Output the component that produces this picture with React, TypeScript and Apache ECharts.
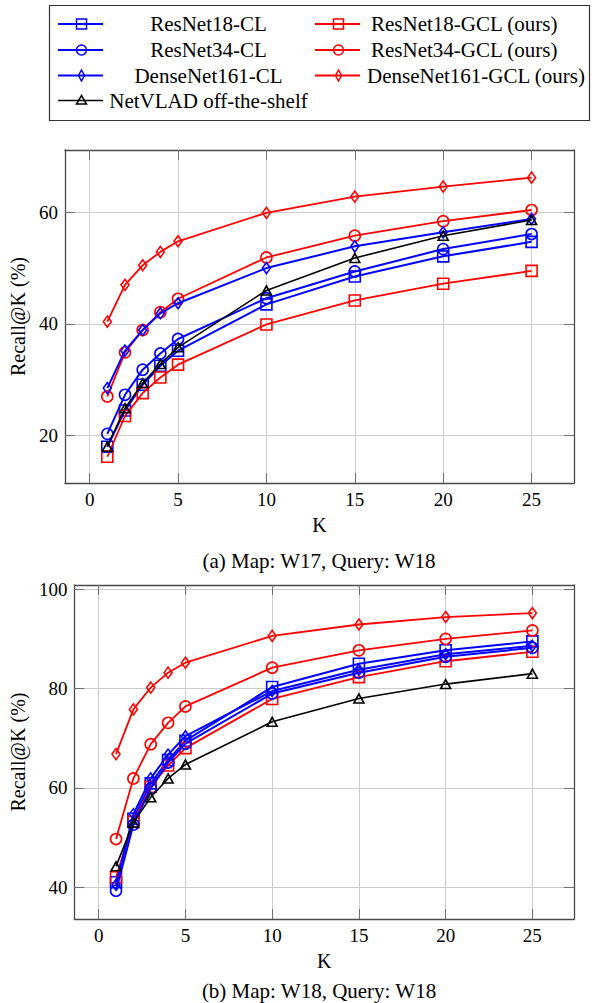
import React, { useEffect, useRef } from "react";
import * as echarts from "echarts";

const kValues = [1, 2, 3, 4, 5, 10, 15, 20, 25];
const xTicks = [0, 5, 10, 15, 20, 25];
const yTicksA = [20, 40, 60];
const yTicksB = [40, 60, 80, 100];

const seriesNames = [
  "ResNet18-CL",
  "ResNet18-GCL (ours)",
  "ResNet34-CL",
  "ResNet34-GCL (ours)",
  "DenseNet161-CL",
  "DenseNet161-GCL (ours)",
  "NetVLAD off-the-shelf",
];

// (a) Map: W17, Query: W18
const r18clA = [18.0, 24.5, 29.1, 32.5, 35.2, 43.5, 48.5, 52.1, 54.7];
const r18gclA = [16.2, 23.5, 27.6, 30.4, 32.7, 39.9, 44.2, 47.2, 49.5];
const r34clA = [20.3, 27.3, 31.8, 34.7, 37.3, 44.6, 49.4, 53.4, 56.1];
const r34gclA = [27.0, 34.9, 38.9, 42.1, 44.5, 51.9, 55.8, 58.4, 60.4];
const d161clA = [28.5, 35.2, 38.9, 41.9, 43.7, 50.0, 53.9, 56.4, 58.8];
const d161gclA = [40.4, 47.0, 50.5, 52.9, 54.8, 59.9, 62.8, 64.6, 66.2];
const netvladA = [18.0, 24.9, 29.4, 32.8, 35.8, 46.0, 51.8, 55.8, 58.6];

// (b) Map: W18, Query: W18
const r18clB = [41.0, 53.8, 60.9, 65.6, 69.5, 80.3, 85.0, 87.7, 89.5];
const r18gclB = [42.0, 53.2, 60.2, 64.5, 68.0, 77.9, 82.3, 85.5, 87.4];
const r34clB = [39.3, 52.6, 59.9, 65.1, 68.9, 79.0, 83.2, 86.4, 88.2];
const r34gclB = [49.7, 61.9, 68.8, 73.1, 76.4, 84.2, 87.7, 90.0, 91.7];
const d161clB = [40.5, 54.7, 61.9, 66.7, 70.4, 79.5, 83.8, 86.9, 88.6];
const d161gclB = [66.8, 75.8, 80.2, 83.2, 85.2, 90.6, 92.9, 94.4, 95.2];
const netvladB = [44.2, 53.0, 58.1, 61.9, 64.7, 73.3, 78.0, 80.9, 83.0];

const dataA = [r18clA, r18gclA, r34clA, r34gclA, d161clA, d161gclA, netvladA];
const dataB = [r18clB, r18gclB, r34clB, r34gclB, d161clB, d161gclB, netvladB];

const captionA = "(a) Map: W17, Query: W18";
const captionB = "(b) Map: W18, Query: W18";

const BLUE = "#0000ff";
const RED = "#ff0000";
const BLACK = "#000000";
const styles = [
  { color: BLUE, mark: "square", lw: 2 },
  { color: RED, mark: "square", lw: 1.8 },
  { color: BLUE, mark: "circle", lw: 2 },
  { color: RED, mark: "circle", lw: 1.8 },
  { color: BLUE, mark: "diamond", lw: 2 },
  { color: RED, mark: "diamond", lw: 1.8 },
  { color: BLACK, mark: "triangle", lw: 1.6 },
];

const FONT = "Liberation Serif";

function symbolOf(mark: string) {
  if (mark === "square") return { symbol: "rect", symbolSize: 11 };
  if (mark === "circle") return { symbol: "circle", symbolSize: 11 };
  if (mark === "diamond") return { symbol: "diamond", symbolSize: [8, 11] };
  return { symbol: "triangle", symbolSize: [10, 9] };
}

function legendMarker(mark: string, cx: number, cy: number, color: string) {
  const style = { fill: "none", stroke: color, lineWidth: 1.5 };
  if (mark === "square")
    return { type: "rect", shape: { x: cx - 5, y: cy - 5, width: 10, height: 10 }, style };
  if (mark === "circle") return { type: "circle", shape: { cx, cy, r: 5 }, style };
  if (mark === "diamond")
    return {
      type: "polygon",
      shape: { points: [[cx, cy - 5.5], [cx + 3, cy], [cx, cy + 5.5], [cx - 3, cy]] },
      style,
    };
  return {
    type: "polygon",
    shape: { points: [[cx, cy - 5], [cx + 5, cy + 3.5], [cx - 5, cy + 3.5]] },
    style,
  };
}

export default function App() {
  const ref = useRef<HTMLDivElement>(null);

  useEffect(() => {
    if (!ref.current) return;
    const chart = echarts.init(ref.current, undefined, { renderer: "svg" });

    const frame = { show: true, onZero: false, lineStyle: { color: "#4a4a4a", width: 1.3 } };
    const tick = (vals: number[]) => ({
      show: true,
      inside: true,
      length: 10,
      lineStyle: { color: "#707070", width: 1 },
      customValues: vals,
    });
    const labelStyle = { color: "#000", fontFamily: FONT, fontSize: 19 };
    const nameStyle = { color: "#000", fontFamily: FONT, fontSize: 20 };
    const split = { show: true, lineStyle: { color: "#cccccc", width: 1 } };

    const makeX = (gi: number) => [
      {
        type: "value",
        gridIndex: gi,
        position: "bottom",
        min: -1.4,
        max: 27.4,
        axisLine: frame,
        axisTick: tick(xTicks),
        axisLabel: { ...labelStyle, margin: 7, customValues: xTicks },
        splitLine: split,
        name: "K",
        nameLocation: "middle",
        nameGap: 32,
        nameTextStyle: nameStyle,
      },
      {
        type: "value",
        gridIndex: gi,
        position: "top",
        min: -1.4,
        max: 27.4,
        axisLine: frame,
        axisTick: tick(xTicks),
        axisLabel: { show: false },
        splitLine: { show: false },
      },
    ];
    const makeY = (gi: number, min: number, max: number, ticks: number[]) => [
      {
        type: "value",
        gridIndex: gi,
        position: "left",
        min,
        max,
        axisLine: frame,
        axisTick: tick(ticks),
        axisLabel: { ...labelStyle, margin: 7, customValues: ticks },
        splitLine: split,
        name: "Recall@K (%)",
        nameLocation: "middle",
        nameGap: 34,
        nameTextStyle: nameStyle,
      },
      {
        type: "value",
        gridIndex: gi,
        position: "right",
        min,
        max,
        axisLine: frame,
        axisTick: tick(ticks),
        axisLabel: { show: false },
        splitLine: { show: false },
      },
    ];

    const makeSeries = (data: number[][], axisIdx: number) =>
      data.map((vals, i) => {
        const st = styles[i];
        return {
          type: "line",
          name: seriesNames[i],
          xAxisIndex: axisIdx,
          yAxisIndex: axisIdx,
          data: kValues.map((k, j) => [k, vals[j]]),
          ...symbolOf(st.mark),
          showAllSymbol: true,
          lineStyle: { color: st.color, width: st.lw },
          itemStyle: { color: "rgba(0,0,0,0)", borderColor: st.color, borderWidth: 1.6 },
          emphasis: { disabled: true },
          silent: true,
          z: 2 + i,
        };
      });

    const rowsY = [24, 50, 75.5, 100.5];
    const legendEls: any[] = [
      {
        type: "rect",
        shape: { x: 49.5, y: 5.5, width: 540, height: 115 },
        style: { fill: "#fff", stroke: "#333", lineWidth: 1.2 },
        z: 10,
      },
    ];
    const col2TextX = [371, 371, 367];
    seriesNames.forEach((name, i) => {
      const col = i % 2;
      const row = Math.floor(i / 2);
      const cy = rowsY[row];
      const x0 = col === 0 ? 58 : 315;
      const cx = x0 + 23.5;
      const st = styles[i];
      legendEls.push({
        type: "line",
        shape: { x1: x0, y1: cy, x2: x0 + 45, y2: cy },
        style: { stroke: st.color, lineWidth: st.lw },
        z: 11,
      });
      legendEls.push({ ...legendMarker(st.mark, cx, cy, st.color), z: 12 });
      legendEls.push({
        type: "text",
        x: col === 0 ? 208.5 : col2TextX[row],
        y: cy,
        style: {
          text: name,
          fill: "#000",
          fontFamily: FONT,
          fontSize: 21,
          align: col === 0 ? "center" : "left",
          verticalAlign: "middle",
        },
        z: 12,
      });
    });

    const caption = (text: string, y: number) => ({
      type: "text",
      x: 319,
      y,
      style: {
        text,
        fill: "#000",
        fontFamily: FONT,
        fontSize: 21,
        align: "center",
        verticalAlign: "middle",
      },
    });

    chart.setOption({
      animation: false,
      backgroundColor: "#ffffff",
      grid: [
        { left: 64, top: 150, width: 510, height: 333 },
        { left: 64, top: 585, width: 510, height: 334 },
      ],
      xAxis: [...makeX(0), ...makeX(1)],
      yAxis: [...makeY(0, 11.5, 71.15, yTicksA), ...makeY(1, 33.6, 100.85, yTicksB)],
      series: [...makeSeries(dataA, 0), ...makeSeries(dataB, 2)],
      graphic: [...legendEls, caption(captionA, 561), caption(captionB, 991)],
    });

    return () => chart.dispose();
  }, []);

  return (
    <div
      ref={ref}
      style={{ position: "fixed", left: 0, top: 0, width: 597, height: 1003, background: "#fff" }}
    />
  );
}
